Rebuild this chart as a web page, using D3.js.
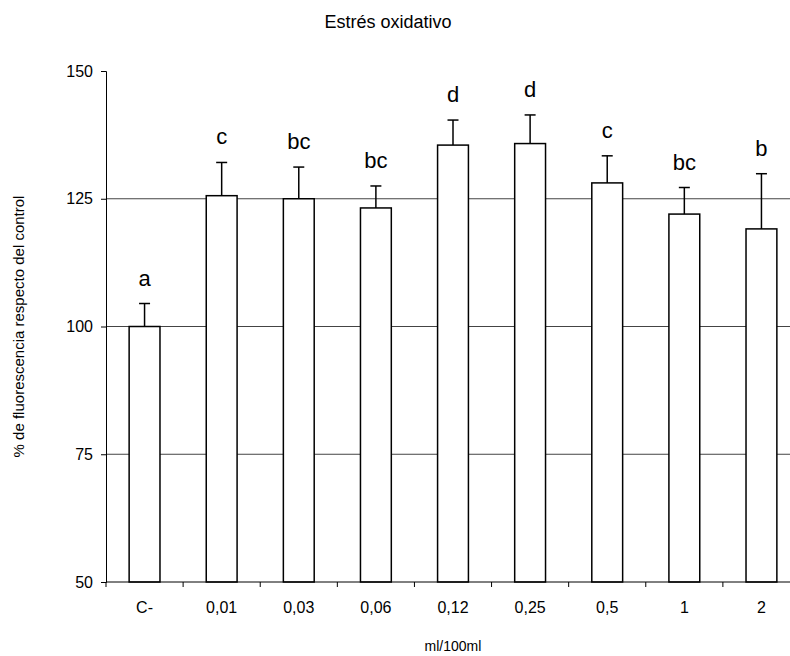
<!DOCTYPE html>
<html>
<head>
<meta charset="utf-8">
<script src="https://cdn.jsdelivr.net/npm/d3@7"></script>
<style>
  body { margin: 0; background: #fff; }
  svg { display: block; font-family: "Liberation Sans", Arial, sans-serif; }
</style>
</head>
<body>
<svg id="chart"></svg>
<script>
// data
const categories = ['C-', '0,01', '0,03', '0,06', '0,12', '0,25', '0,5', '1', '2'];
const means      = [100, 125.6, 125.0, 123.2, 135.5, 135.8, 128.1, 122.0, 119.1];
const errors     = [4.5, 6.5, 6.2, 4.3, 4.9, 5.6, 5.3, 5.2, 10.8];
const letters    = ['a', 'c', 'bc', 'bc', 'd', 'd', 'c', 'bc', 'b'];
const yTicks     = [50, 75, 100, 125, 150];
const gridValues = [75, 100, 125];

const data = categories.map((c, i) => ({ cat: c, mean: means[i], err: errors[i], letter: letters[i] }));

const W = 790, H = 656;
const plot = { left: 106, right: 800, top: 71, bottom: 582 };

const svg = d3.select('#chart')
  .attr('width', W)
  .attr('height', H);

const x = d3.scaleBand()
  .domain(categories)
  .range([plot.left, plot.right])
  .paddingInner(0.6)
  .paddingOuter(0.3);

// band of each category (for ticks at the boundaries)
const step = (plot.right - plot.left) / categories.length;

const y = d3.scaleLinear()
  .domain([50, 150])
  .range([plot.bottom, plot.top]);

// gridlines
svg.append('g')
  .selectAll('line')
  .data(gridValues)
  .join('line')
    .attr('x1', plot.left)
    .attr('x2', plot.right)
    .attr('y1', d => y(d))
    .attr('y2', d => y(d))
    .attr('stroke', '#444')
    .attr('stroke-width', 1);

// y axis
const yAxisG = svg.append('g')
  .attr('transform', `translate(${plot.left},0)`)
  .call(d3.axisLeft(y).tickValues(yTicks).tickSize(5).tickPadding(8));
yAxisG.select('.domain').attr('stroke', '#000');
yAxisG.selectAll('.tick line').attr('stroke', '#000');
yAxisG.selectAll('.tick text')
  .attr('font-size', 16)
  .attr('fill', '#000')
  .attr('font-family', '"Liberation Sans", Arial, sans-serif');

// bars
svg.append('g')
  .selectAll('rect')
  .data(data)
  .join('rect')
    .attr('x', d => x(d.cat))
    .attr('width', x.bandwidth())
    .attr('y', d => y(d.mean))
    .attr('height', d => y(50) - y(d.mean))
    .attr('fill', '#fff')
    .attr('stroke', '#000')
    .attr('stroke-width', 1.5);

// error bars (upper only)
const eb = svg.append('g')
  .attr('stroke', '#000')
  .attr('stroke-width', 1.5);
eb.selectAll('.ev')
  .data(data)
  .join('line')
    .attr('class', 'ev')
    .attr('x1', d => x(d.cat) + x.bandwidth() / 2)
    .attr('x2', d => x(d.cat) + x.bandwidth() / 2)
    .attr('y1', d => y(d.mean))
    .attr('y2', d => y(d.mean + d.err));
eb.selectAll('.ec')
  .data(data)
  .join('line')
    .attr('class', 'ec')
    .attr('x1', d => x(d.cat) + x.bandwidth() / 2 - 5.5)
    .attr('x2', d => x(d.cat) + x.bandwidth() / 2 + 5.5)
    .attr('y1', d => y(d.mean + d.err))
    .attr('y2', d => y(d.mean + d.err));

// significance letters
svg.append('g')
  .selectAll('text')
  .data(data)
  .join('text')
    .attr('x', d => x(d.cat) + x.bandwidth() / 2)
    .attr('y', d => y(d.mean + d.err) - 18)
    .attr('text-anchor', 'middle')
    .attr('font-size', 22)
    .text(d => d.letter);

// x axis with ticks at the category boundaries
const xAxisG = svg.append('g');
xAxisG.append('line')
  .attr('x1', plot.left)
  .attr('x2', plot.right)
  .attr('y1', plot.bottom)
  .attr('y2', plot.bottom)
  .attr('stroke', '#000');
xAxisG.selectAll('.xt')
  .data(d3.range(categories.length + 1))
  .join('line')
    .attr('class', 'xt')
    .attr('x1', i => plot.left + i * step)
    .attr('x2', i => plot.left + i * step)
    .attr('y1', plot.bottom)
    .attr('y2', plot.bottom + 5)
    .attr('stroke', '#000');
xAxisG.selectAll('text')
  .data(categories)
  .join('text')
    .attr('x', d => x(d) + x.bandwidth() / 2)
    .attr('y', 613)
    .attr('text-anchor', 'middle')
    .attr('font-size', 16)
    .text(d => d);

// titles
svg.append('text')
  .attr('x', 388)
  .attr('y', 28)
  .attr('text-anchor', 'middle')
  .attr('font-size', 18)
  .text('Estrés oxidativo');

svg.append('text')
  .attr('x', (plot.left + plot.right) / 2)
  .attr('y', 651)
  .attr('text-anchor', 'middle')
  .attr('font-size', 14)
  .text('ml/100ml');

svg.append('text')
  .attr('transform', 'rotate(-90)')
  .attr('x', -(plot.top + plot.bottom) / 2)
  .attr('y', 24)
  .attr('text-anchor', 'middle')
  .attr('font-size', 15)
  .text('% de fluorescencia respecto del control');
</script>
</body>
</html>
